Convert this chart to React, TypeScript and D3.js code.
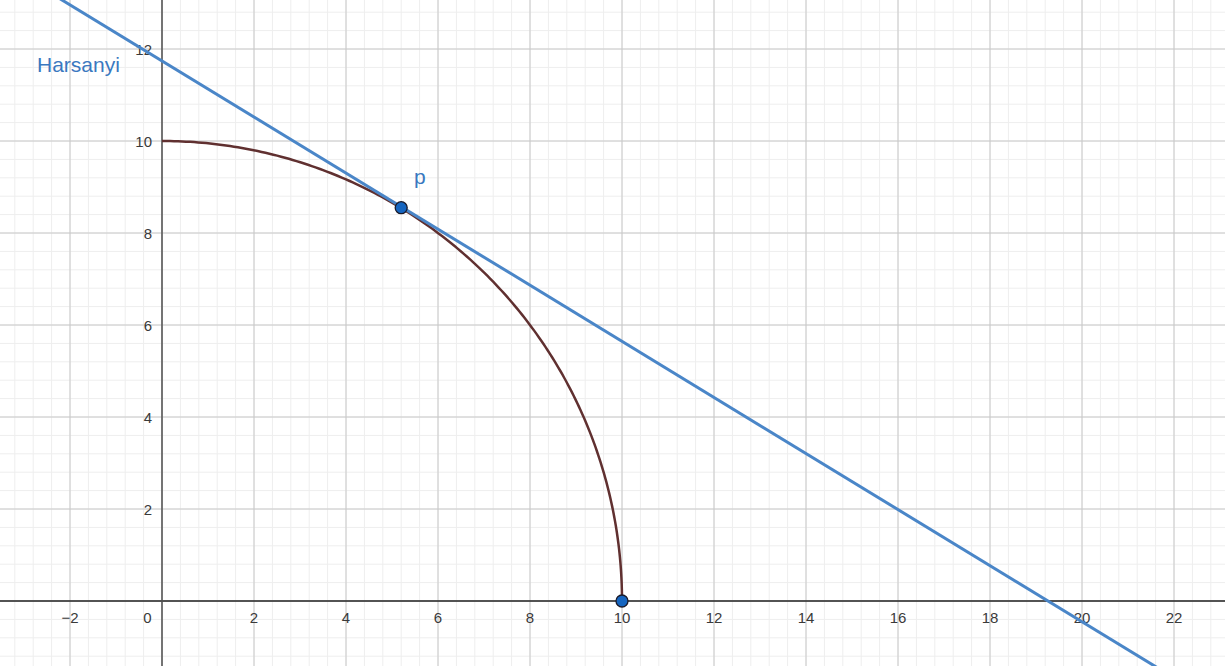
import React from "react";
import * as d3 from "d3";

const W = 1225;
const H = 666;

// Frontier: quarter circle of radius 10
const frontierRadius = [10];
// Point p on the frontier
const pointP = [5.2, 8.55];
const pointEnd = [10, 0];
// Harsanyi line given by its intercepts
const harsanyiYIntercept = [11.74];
const harsanyiXIntercept = [19.26];

const xTicks = [-2, 0, 2, 4, 6, 8, 10, 12, 14, 16, 18, 20, 22];
const yTicks = [2, 4, 6, 8, 10, 12];

export default function App() {
  const unit = 46;
  const x0 = 162;
  const y0 = 601;
  const x = d3.scaleLinear().domain([-x0 / unit, (W - x0) / unit]).range([0, W]);
  const y = d3.scaleLinear().domain([-(H - y0) / unit, y0 / unit]).range([H, 0]);

  const [xmin, xmax] = x.domain();
  const [ymin, ymax] = y.domain();

  const minorX = d3.range(Math.ceil(xmin / 0.4) * 0.4, xmax, 0.4);
  const minorY = d3.range(Math.ceil(ymin / 0.4) * 0.4, ymax, 0.4);
  const majorX = d3.range(Math.ceil(xmin / 2) * 2, xmax, 2);
  const majorY = d3.range(Math.ceil(ymin / 2) * 2, ymax, 2);

  const R = frontierRadius[0];
  const angles = d3.range(0, 90.01, 0.5).map((a) => (a * Math.PI) / 180);
  const curvePts: [number, number][] = angles.map((t) => [R * Math.sin(t), R * Math.cos(t)]);
  const line = d3
    .line<[number, number]>()
    .x((d) => x(d[0]))
    .y((d) => y(d[1]))
    .curve(d3.curveLinear);

  const b = harsanyiYIntercept[0];
  const slope = -b / harsanyiXIntercept[0];
  const hLine: [number, number][] = [
    [xmin - 1, b + slope * (xmin - 1)],
    [xmax + 1, b + slope * (xmax + 1)],
  ];

  const font = "'Liberation Sans', Arial, Helvetica, sans-serif";

  return (
    <svg
      width={W}
      height={H}
      style={{ position: "fixed", left: 0, top: 0, background: "#fff" }}
    >
      <rect x={0} y={0} width={W} height={H} fill="#fff" />
      <g>
        {minorX.map((v, i) => (
          <line key={"mx" + i} x1={x(v)} x2={x(v)} y1={0} y2={H} stroke="#eeeeee" strokeWidth={1} />
        ))}
        {minorY.map((v, i) => (
          <line key={"my" + i} x1={0} x2={W} y1={y(v)} y2={y(v)} stroke="#eeeeee" strokeWidth={1} />
        ))}
        {majorX.map((v, i) => (
          <line key={"Mx" + i} x1={x(v)} x2={x(v)} y1={0} y2={H} stroke="#c8c8c8" strokeWidth={1} />
        ))}
        {majorY.map((v, i) => (
          <line key={"My" + i} x1={0} x2={W} y1={y(v)} y2={y(v)} stroke="#c8c8c8" strokeWidth={1} />
        ))}
      </g>
      {/* axes */}
      <line x1={0} x2={W} y1={y(0)} y2={y(0)} stroke="#252525" strokeWidth={1.3} />
      <line x1={x(0)} x2={x(0)} y1={0} y2={H} stroke="#505050" strokeWidth={1.5} />
      {/* tick labels */}
      <g fontFamily={font} fontSize={15} fill="#3a3a3a">
        {xTicks.map((v) =>
          v === 0 ? (
            <text key={"xt" + v} x={x(0) - 14.5} y={y(0) + 21.5} textAnchor="middle">
              0
            </text>
          ) : (
            <text key={"xt" + v} x={x(v)} y={y(0) + 21.5} textAnchor="middle">
              {v < 0 ? "\u2212" + Math.abs(v) : v}
            </text>
          )
        )}
        {yTicks.map((v) => (
          <text key={"yt" + v} x={x(0) - 10} y={y(v) + 6} textAnchor="end">
            {v}
          </text>
        ))}
      </g>
      {/* frontier */}
      <path d={line(curvePts) || ""} fill="none" stroke="#603030" strokeWidth={2.5} />
      {/* Harsanyi line */}
      <path d={line(hLine) || ""} fill="none" stroke="#4a86c8" strokeWidth={3} />
      {/* points */}
      <circle cx={x(pointP[0])} cy={y(pointP[1])} r={6} fill="#1565c0" stroke="#1a1a2a" strokeWidth={1.3} />
      <circle cx={x(pointEnd[0])} cy={y(pointEnd[1])} r={6} fill="#1565c0" stroke="#1a1a2a" strokeWidth={1.3} />
      {/* labels */}
      <text x={37} y={72} fontFamily={font} fontSize={21} fill="#3a78c0">
        Harsanyi
      </text>
      <text x={414} y={184} fontFamily={font} fontSize={21} fill="#3a78c0">
        p
      </text>
    </svg>
  );
}
